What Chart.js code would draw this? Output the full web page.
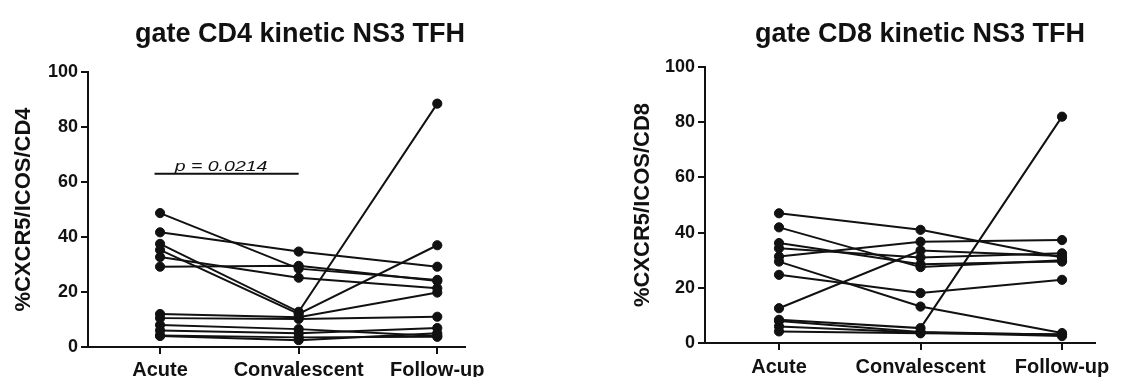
<!DOCTYPE html>
<html>
<head>
<meta charset="utf-8">
<script src="https://cdn.jsdelivr.net/npm/chart.js@4/dist/chart.umd.min.js"></script>
<style>
  html, body { margin: 0; padding: 0; background: #fff; overflow: hidden; }
  #wrap { position: relative; width: 1124px; height: 377px; }
  canvas { position: absolute; top: 0; }
</style>
</head>
<body>
<div id="wrap">
  <canvas id="cd4" width="562" height="377" style="left:0"></canvas>
  <canvas id="cd8" width="562" height="377" style="left:562px"></canvas>
</div>
<script>
// Time points and y ticks
const timepoints = ['Acute', 'Convalescent', 'Follow-up'];
const yTickValues = [0, 20, 40, 60, 80, 100];

// % CXCR5+ICOS+ of CD4, one entry per patient
const cd4Acute     = [48.7, 41.7, 37.5, 35.3, 32.7, 29.2, 12.0, 10.5, 8.0, 6.0, 4.2, 4.0];
const cd4Conval    = [28.5, 34.7, 12.8, 12.0, 25.2, 29.5, 10.8, 10.2, 6.5, 5.0, 3.5, 2.5];
const cd4FollowUp  = [24.4, 29.2, 88.5, 37.0, 21.4, 24.0, 19.8, 11.0, 4.0, 6.9, 3.7, 5.0];

// % CXCR5+ICOS+ of CD8, one entry per patient
const cd8Acute     = [47.0, 41.9, 36.2, 34.3, 31.3, 29.5, 24.7, 12.6, 8.4, 8.0, 6.0, 4.2];
const cd8Conval    = [41.0, 27.5, 28.5, 31.0, 36.7, 13.2, 18.1, 33.5, 5.4, 4.0, 3.8, 3.5];
const cd8FollowUp  = [31.0, 30.0, 29.5, 32.5, 37.3, 3.6, 22.9, 31.5, 82.0, 3.0, 2.5, 3.2];

// Acute vs convalescent comparison (CD4)
const cd4PValue = 'p = 0.0214';
const cd4BracketY = 63;

const FONT = '"Liberation Sans", Arial, Helvetica, sans-serif';
const INK = '#111';

function patientDatasets(acute, conval, follow) {
  return acute.map((a, i) => ({
    data: [{ x: 0, y: a }, { x: 1, y: conval[i] }, { x: 2, y: follow[i] }],
    showLine: true,
    borderColor: INK,
    borderWidth: 2,
    pointRadius: 4.6,
    pointHoverRadius: 4.6,
    pointBackgroundColor: INK,
    pointBorderColor: INK,
    pointBorderWidth: 1,
    clip: false
  }));
}

// Panel heading drawn above the plot
const headingPlugin = {
  id: 'heading',
  afterDraw(chart, args, opts) {
    const ctx = chart.ctx;
    ctx.save();
    ctx.font = 'bold 27px ' + FONT;
    ctx.fillStyle = INK;
    ctx.textAlign = 'center';
    ctx.textBaseline = 'alphabetic';
    ctx.fillText(opts.text, opts.x, opts.y);
    ctx.restore();
  }
};

// Significance bar with p value between two time points
const pValuePlugin = {
  id: 'pvalue',
  afterDraw(chart, args, opts) {
    if (!opts.text) return;
    const { x, y } = chart.scales;
    const ctx = chart.ctx;
    const x0 = x.getPixelForValue(opts.from);
    const x1 = x.getPixelForValue(opts.to);
    const yy = y.getPixelForValue(opts.value);
    ctx.save();
    ctx.strokeStyle = INK;
    ctx.lineWidth = 2;
    ctx.beginPath();
    ctx.moveTo(x0, yy);
    ctx.lineTo(x1, yy);
    ctx.stroke();
    const cx = x.getPixelForValue(opts.textAt);
    ctx.translate(cx, yy - 3);
    ctx.scale(1.3, 1);
    ctx.font = 'italic 15px ' + FONT;
    ctx.fillStyle = INK;
    ctx.textAlign = 'center';
    ctx.textBaseline = 'alphabetic';
    ctx.fillText(opts.text, 0, 0);
    ctx.restore();
  }
};

function makePanel(id, g) {
  return new Chart(document.getElementById(id), {
    type: 'scatter',
    data: { datasets: patientDatasets(g.acute, g.conval, g.follow) },
    plugins: [headingPlugin, pValuePlugin],
    options: {
      responsive: false,
      animation: false,
      events: [],
      layout: { padding: { top: g.top, left: 0, right: g.right, bottom: 0 } },
      plugins: {
        legend: { display: false },
        tooltip: { enabled: false },
        heading: { text: g.title, x: g.titleX, y: 42 },
        pvalue: g.pvalue || {}
      },
      scales: {
        x: {
          type: 'linear',
          min: g.xMin,
          max: g.xMax,
          afterBuildTicks: s => { s.ticks = timepoints.map((_, i) => ({ value: i })); },
          afterFit: s => { s.height = g.xHeight; s.paddingLeft = 0; s.paddingRight = 0; },
          ticks: {
            autoSkip: false,
            maxRotation: 0,
            padding: g.labelPad,
            color: INK,
            font: { family: FONT, size: 20, weight: 'bold' },
            callback: v => timepoints[v]
          },
          grid: { display: true, drawOnChartArea: false, drawTicks: true, tickLength: 7, color: INK, lineWidth: 2 },
          border: { display: true, color: INK, width: 2 }
        },
        y: {
          min: 0,
          max: 100,
          afterBuildTicks: s => { s.ticks = yTickValues.map(v => ({ value: v })); },
          afterFit: s => { s.width = g.yWidth; s.paddingTop = 0; s.paddingBottom = 0; },
          ticks: {
            padding: 3,
            color: INK,
            font: { family: FONT, size: 18, weight: 'bold' }
          },
          grid: { display: true, drawOnChartArea: false, drawTicks: true, tickLength: 7, color: INK, lineWidth: 2 },
          border: { display: true, color: INK, width: 2 },
          title: {
            display: true,
            text: g.yTitle,
            color: INK,
            font: { family: FONT, size: 22, weight: 'bold' },
            padding: { top: g.yTitlePad, bottom: 0 }
          }
        }
      }
    }
  });
}

makePanel('cd4', {
  acute: cd4Acute, conval: cd4Conval, follow: cd4FollowUp,
  title: 'gate CD4 kinetic NS3 TFH', titleX: 300,
  yTitle: '%CXCR5/ICOS/CD4', yTitlePad: 11,
  top: 72, right: 97, yWidth: 88, xHeight: 30, labelPad: 4,
  xMin: -0.52, xMax: 2.2,
  pvalue: { text: cd4PValue, from: -0.04, to: 1.0, value: cd4BracketY, textAt: 0.44 }
});

makePanel('cd8', {
  acute: cd8Acute, conval: cd8Conval, follow: cd8FollowUp,
  title: 'gate CD8 kinetic NS3 TFH', titleX: 358,
  yTitle: '%CXCR5/ICOS/CD8', yTitlePad: 68,
  top: 67, right: 29, yWidth: 143, xHeight: 34, labelPad: 5,
  xMin: -0.523, xMax: 2.233
});
</script>
</body>
</html>
